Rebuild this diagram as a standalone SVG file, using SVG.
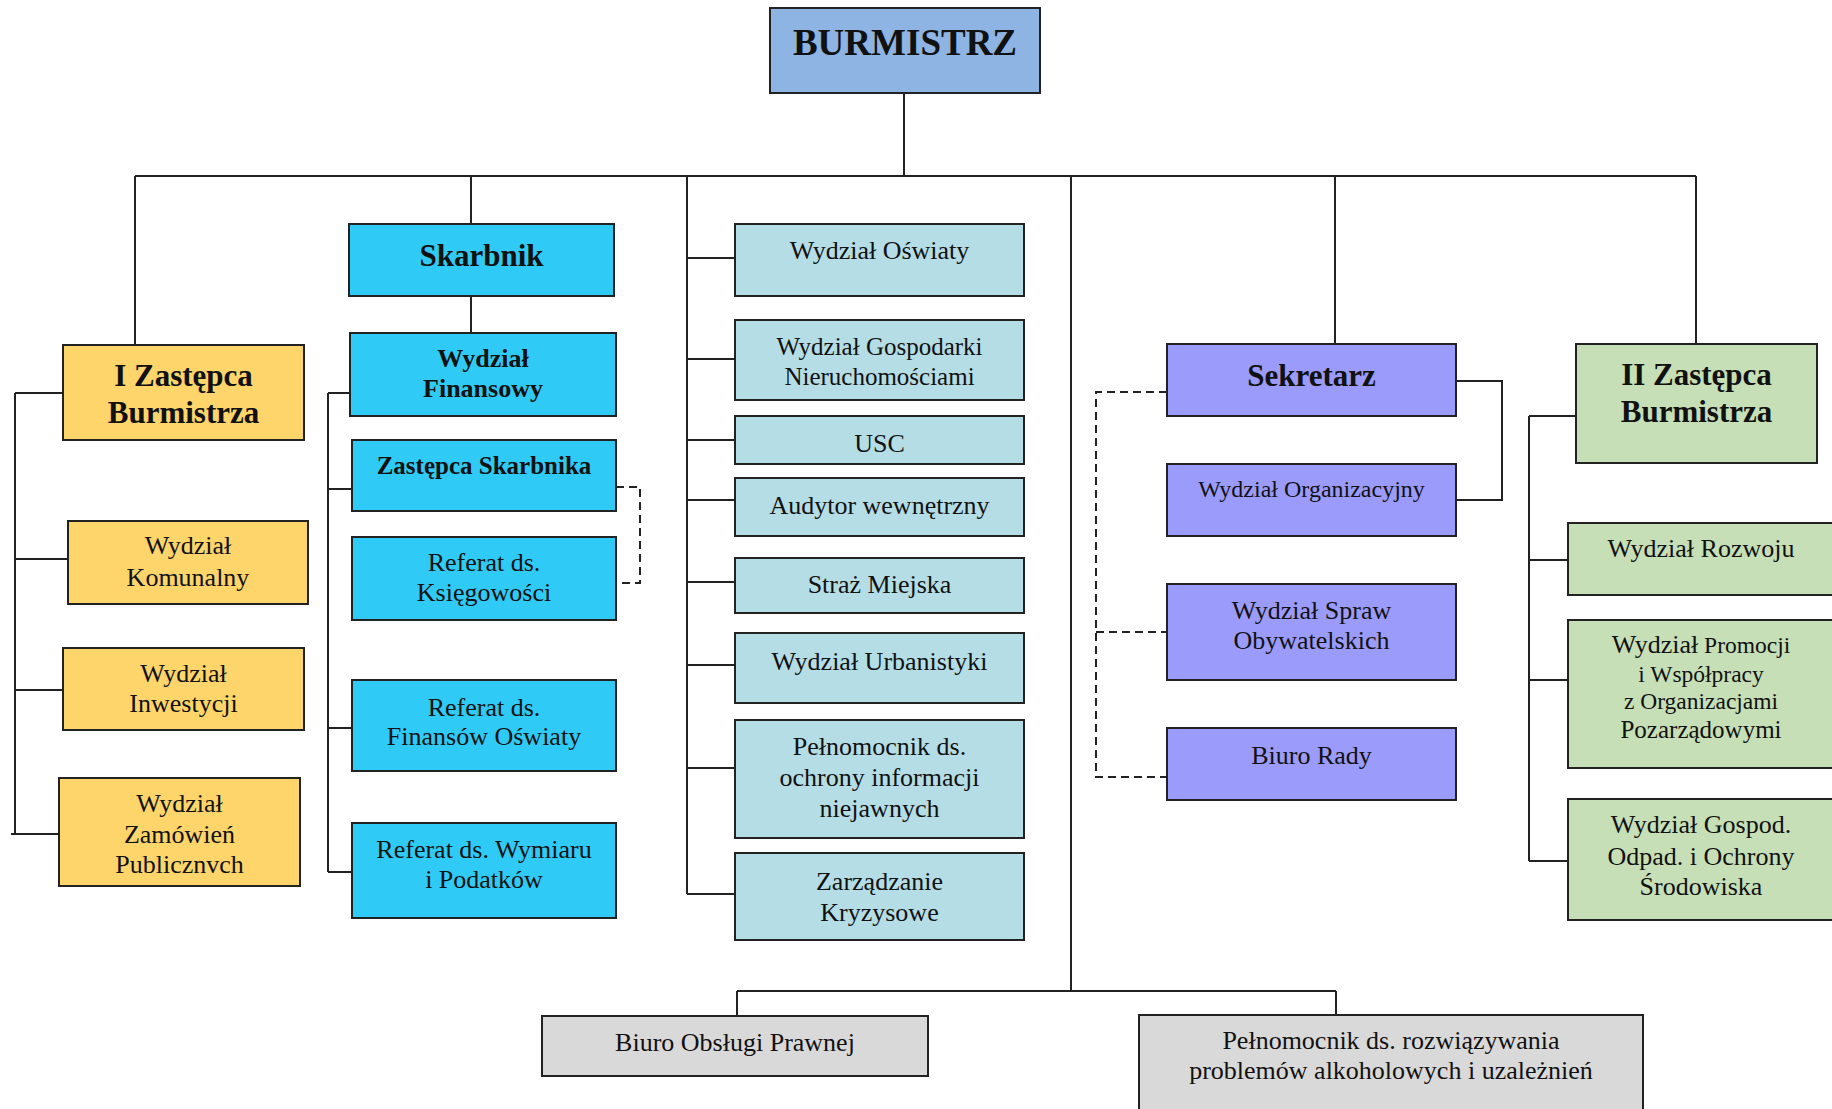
<svg xmlns="http://www.w3.org/2000/svg" width="1832" height="1109" viewBox="0 0 1832 1109">
<style>
text{font-family:"Liberation Serif","Times New Roman",serif;fill:#111;text-anchor:middle;font-size:26px}
.b{font-weight:bold}
.f37{font-size:37px}
.f31{font-size:31px}
.f25{font-size:25px}
.f24{font-size:24px}
.f23{font-size:23.5px}
.n{stroke:#222;stroke-width:2}
.top{fill:#8DB4E2}
.cy{fill:#2FCBF6}
.ye{fill:#FDD56B}
.lb{fill:#B5DDE6}
.pu{fill:#9B9BFB}
.gr{fill:#C6DFB6}
.gy{fill:#D9D9D9}
.ln{fill:none;stroke:#222;stroke-width:2}
.ds{fill:none;stroke:#222;stroke-width:2;stroke-dasharray:8 5}
</style>
<g id="connectors">
<path class="ln" d="M904 93V176M135 176H1696M135 176V345M471 176V224M687 176V894M1071 176V991M1335 176V344M1696 176V344"/>
<path class="ln" d="M471 296V333"/>
<path class="ln" d="M15 393V834M15 393H63M15 559H68M15 690H63M11 834H59"/>
<path class="ln" d="M328 393V872M328 393H350M328 489H352M328 728H352M328 872H352"/>
<path class="ds" d="M616 487H640V583H616"/>
<path class="ln" d="M687 258H735M687 359H735M687 440H735M687 500H735M687 582H735M687 665H735M687 768H735M687 894H735"/>
<path class="ln" d="M1456 381H1502V500H1456"/>
<path class="ds" d="M1167 392H1096V777H1167M1096 632H1167"/>
<path class="ln" d="M1529 416V861M1529 416H1576M1529 560H1568M1529 680H1568M1529 861H1568"/>
<path class="ln" d="M737 991H1336M737 991V1016M1336 991V1015"/>
</g>
<g id="burmistrz"><rect class="n top" x="770" y="8" width="270" height="85"/><text class="b f37" x="905" y="55">BURMISTRZ</text></g>
<g id="zastepca1"><rect class="n ye" x="63" y="345" width="241" height="95"/><text class="b f31" x="183.5" y="386">I Zastępca</text><text class="b f31" x="183.5" y="423">Burmistrza</text></g>
<g id="komunalny"><rect class="n ye" x="68" y="521" width="240" height="83"/><text x="188" y="554">Wydział</text><text x="188" y="586">Komunalny</text></g>
<g id="inwestycji"><rect class="n ye" x="63" y="648" width="241" height="82"/><text x="183.5" y="682">Wydział</text><text x="183.5" y="712">Inwestycji</text></g>
<g id="zamowien"><rect class="n ye" x="59" y="778" width="241" height="108"/><text x="179.5" y="812">Wydział</text><text x="179.5" y="843">Zamówień</text><text x="179.5" y="873">Publicznvch</text></g>
<g id="skarbnik"><rect class="n cy" x="349" y="224" width="265" height="72"/><text class="b f31" x="481.5" y="266">Skarbnik</text></g>
<g id="finansowy"><rect class="n cy" x="350" y="333" width="266" height="83"/><text class="b" x="483" y="367">Wydział</text><text class="b" x="483" y="397">Finansowy</text></g>
<g id="zast-skarbnika"><rect class="n cy" x="352" y="440" width="264" height="71"/><text class="b f25" x="484" y="474">Zastępca Skarbnika</text></g>
<g id="ksiegowosci"><rect class="n cy" x="352" y="537" width="264" height="83"/><text x="484" y="571">Referat ds.</text><text x="484" y="601">Księgowości</text></g>
<g id="fin-oswiaty"><rect class="n cy" x="352" y="680" width="264" height="91"/><text x="484" y="716">Referat ds.</text><text x="484" y="745">Finansów Oświaty</text></g>
<g id="wymiaru"><rect class="n cy" x="352" y="823" width="264" height="95"/><text x="484" y="858">Referat ds. Wymiaru</text><text x="484" y="888">i Podatków</text></g>
<g id="oswiaty"><rect class="n lb" x="735" y="224" width="289" height="72"/><text x="879.5" y="259">Wydział Oświaty</text></g>
<g id="nieruchomosci"><rect class="n lb" x="735" y="320" width="289" height="80"/><text class="f25" x="879.5" y="355">Wydział Gospodarki</text><text class="f25" x="879.5" y="385">Nieruchomościami</text></g>
<g id="usc"><rect class="n lb" x="735" y="416" width="289" height="48"/><text x="879.5" y="452">USC</text></g>
<g id="audytor"><rect class="n lb" x="735" y="478" width="289" height="58"/><text x="879.5" y="514">Audytor wewnętrzny</text></g>
<g id="straz"><rect class="n lb" x="735" y="558" width="289" height="55"/><text x="879.5" y="593">Straż Miejska</text></g>
<g id="urbanistyki"><rect class="n lb" x="735" y="633" width="289" height="70"/><text x="879.5" y="670">Wydział Urbanistyki</text></g>
<g id="niejawnych"><rect class="n lb" x="735" y="720" width="289" height="118"/><text x="879.5" y="755">Pełnomocnik ds.</text><text x="879.5" y="786">ochrony informacji</text><text x="879.5" y="817">niejawnych</text></g>
<g id="kryzysowe"><rect class="n lb" x="735" y="853" width="289" height="87"/><text x="879.5" y="890">Zarządzanie</text><text x="879.5" y="921">Kryzysowe</text></g>
<g id="sekretarz"><rect class="n pu" x="1167" y="344" width="289" height="72"/><text class="b f31" x="1311.5" y="386">Sekretarz</text></g>
<g id="organizacyjny"><rect class="n pu" x="1167" y="464" width="289" height="72"/><text class="f24" x="1311.5" y="497">Wydział Organizacyjny</text></g>
<g id="obywatelskich"><rect class="n pu" x="1167" y="584" width="289" height="96"/><text x="1311.5" y="619">Wydział Spraw</text><text x="1311.5" y="649">Obywatelskich</text></g>
<g id="biuro-rady"><rect class="n pu" x="1167" y="728" width="289" height="72"/><text x="1311.5" y="764">Biuro Rady</text></g>
<g id="zastepca2"><rect class="n gr" x="1576" y="344" width="241" height="119"/><text class="b f31" x="1696.5" y="385">II Zastępca</text><text class="b f31" x="1696.5" y="422">Burmistrza</text></g>
<g id="rozwoju"><rect class="n gr" x="1568" y="523" width="272" height="72"/><text x="1701" y="557">Wydział Rozwoju</text></g>
<g id="promocji"><rect class="n gr" x="1568" y="620" width="272" height="148"/><text x="1701" y="653"><tspan>Wydział</tspan><tspan class="f23"> Promocji</tspan></text><text class="f23" x="1701" y="682">i Współpracy</text><text class="f23" x="1701" y="709">z Organizacjami</text><text class="f25" x="1701" y="738">Pozarządowymi</text></g>
<g id="odpadow"><rect class="n gr" x="1568" y="799" width="272" height="121"/><text x="1701" y="833">Wydział Gospod.</text><text x="1701" y="865">Odpad. i Ochrony</text><text x="1701" y="895">Środowiska</text></g>
<g id="prawnej"><rect class="n gy" x="542" y="1016" width="386" height="60"/><text x="735" y="1051">Biuro Obsługi Prawnej</text></g>
<g id="alkoholowych"><rect class="n gy" x="1139" y="1015" width="504" height="110"/><text x="1391" y="1049">Pełnomocnik ds. rozwiązywania</text><text x="1391" y="1079">problemów alkoholowych i uzależnień</text></g>
</svg>
